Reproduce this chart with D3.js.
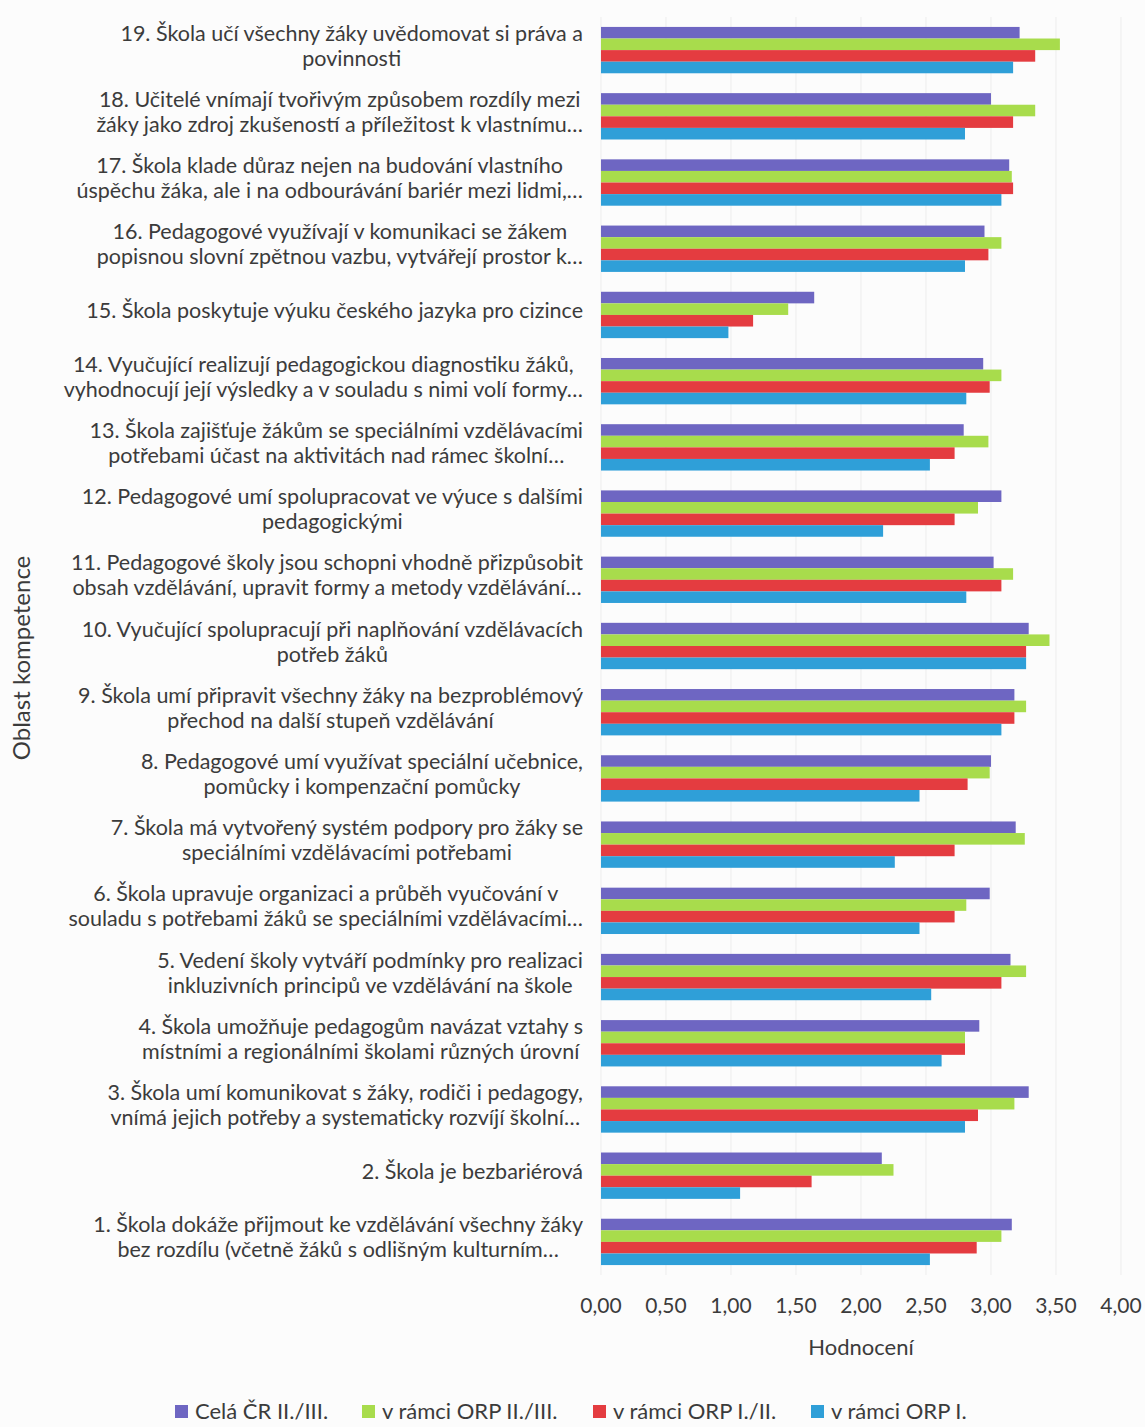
<!DOCTYPE html>
<html>
<head>
<meta charset="utf-8">
<script src="https://cdn.jsdelivr.net/npm/d3@7"></script>
<style>
  html, body { margin: 0; padding: 0; background: #fcfcfc; }
  svg { display: block; }
  text { font-family: Lato, "Open Sans", sans-serif; fill: #3b3b3b; }
</style>
</head>
<body>
<svg id="chart" width="1145" height="1427"></svg>
<script>
// Categories (number 1..19), each as label lines
const categories = [
  ["1. Škola dokáže přijmout ke vzdělávání všechny žáky", "bez rozdílu (včetně žáků s odlišným kulturním…"],
  ["2. Škola je bezbariérová"],
  ["3. Škola umí komunikovat s žáky, rodiči i pedagogy,", "vnímá jejich potřeby a systematicky rozvíjí školní…"],
  ["4. Škola umožňuje pedagogům navázat vztahy s", "místními a regionálními školami různých úrovní"],
  ["5. Vedení školy vytváří podmínky pro realizaci", "inkluzivních principů ve vzdělávání na škole"],
  ["6. Škola upravuje organizaci a průběh vyučování v", "souladu s potřebami žáků se speciálními vzdělávacími…"],
  ["7. Škola má vytvořený systém podpory pro žáky se", "speciálními vzdělávacími potřebami"],
  ["8. Pedagogové umí využívat speciální učebnice,", "pomůcky i kompenzační pomůcky"],
  ["9. Škola umí připravit všechny žáky na bezproblémový", "přechod na další stupeň vzdělávání"],
  ["10. Vyučující spolupracují při naplňování vzdělávacích", "potřeb žáků"],
  ["11. Pedagogové školy jsou schopni vhodně přizpůsobit", "obsah vzdělávání, upravit formy a metody vzdělávání…"],
  ["12. Pedagogové umí spolupracovat ve výuce s dalšími", "pedagogickými"],
  ["13. Škola zajišťuje žákům se speciálními vzdělávacími", "potřebami účast na aktivitách nad rámec školní…"],
  ["14. Vyučující realizují pedagogickou diagnostiku žáků,", "vyhodnocují její výsledky a v souladu s nimi volí formy…"],
  ["15. Škola poskytuje výuku českého jazyka pro cizince"],
  ["16. Pedagogové využívají v komunikaci se žákem", "popisnou slovní zpětnou vazbu, vytvářejí prostor k…"],
  ["17. Škola klade důraz nejen na budování vlastního", "úspěchu žáka, ale i na odbourávání bariér mezi lidmi,…"],
  ["18. Učitelé vnímají tvořivým způsobem rozdíly mezi", "žáky jako zdroj zkušeností a příležitost k vlastnímu…"],
  ["19. Škola učí všechny žáky uvědomovat si práva a", "povinnosti"]
];

const seriesNames = ["Celá ČR II./III.", "v rámci ORP II./III.", "v rámci ORP I./II.", "v rámci ORP I."];
const seriesColors = ["#6e66c2", "#a8dc4c", "#e43c40", "#2f9fd8"];

// values for categories 1..19
const celaCR = [3.16, 2.16, 3.29, 2.91, 3.15, 2.99, 3.19, 3.00, 3.18, 3.29, 3.02, 3.08, 2.79, 2.94, 1.64, 2.95, 3.14, 3.00, 3.22];
const orpIIIII = [3.08, 2.25, 3.18, 2.80, 3.27, 2.81, 3.26, 2.99, 3.27, 3.45, 3.17, 2.90, 2.98, 3.08, 1.44, 3.08, 3.16, 3.34, 3.53];
const orpIII = [2.89, 1.62, 2.90, 2.80, 3.08, 2.72, 2.72, 2.82, 3.18, 3.27, 3.08, 2.72, 2.72, 2.99, 1.17, 2.98, 3.17, 3.17, 3.34];
const orpI = [2.53, 1.07, 2.80, 2.62, 2.54, 2.45, 2.26, 2.45, 3.08, 3.27, 2.81, 2.17, 2.53, 2.81, 0.98, 2.80, 3.08, 2.80, 3.17];
const seriesValues = [celaCR, orpIIIII, orpIII, orpI];

const xTicks = [0, 0.5, 1, 1.5, 2, 2.5, 3, 3.5, 4];
const xTitle = "Hodnocení";
const yTitle = "Oblast kompetence";

const svg = d3.select("#chart");
const margin = { left: 601, right: 24, top: 17, bottom: 152 };
const W = 1145, H = 1427;

const idx = d3.range(categories.length);
const y = d3.scaleBand()
  .domain(idx.slice().reverse())
  .range([margin.top, H - margin.bottom])
  .paddingInner(0.3).paddingOuter(0.15);

const x = d3.scaleLinear().domain([0, 4]).range([margin.left, W - margin.right]);

const ySub = d3.scaleBand().domain(d3.range(seriesNames.length)).range([0, y.bandwidth()]);

// gridlines
svg.append("g")
  .selectAll("line").data(xTicks).join("line")
  .attr("x1", d => x(d)).attr("x2", d => x(d))
  .attr("y1", margin.top).attr("y2", H - margin.bottom)
  .attr("stroke", "#ededed").attr("stroke-width", 1);

// bars
const groups = svg.append("g").selectAll("g").data(idx).join("g")
  .attr("transform", i => `translate(0,${y(i)})`);

groups.selectAll("rect")
  .data(i => seriesValues.map((vals, s) => ({ s, v: vals[i] })))
  .join("rect")
  .attr("x", x(0))
  .attr("y", d => ySub(d.s))
  .attr("height", ySub.bandwidth())
  .attr("width", d => x(d.v) - x(0))
  .attr("fill", d => seriesColors[d.s]);

// category labels
const labelRight = margin.left - 18;
const lineH = 25;
const labels = svg.append("g").selectAll("g").data(idx).join("g");
labels.each(function(i) {
  const g = d3.select(this);
  const lines = categories[i];
  const cy = y(i) + y.bandwidth() / 2 - 5;
  const texts = g.selectAll("text").data(lines).join("text")
    .attr("font-size", 21.5)
    .attr("text-anchor", "middle")
    .attr("dominant-baseline", "central")
    .text(d => d);
  let maxW = 0;
  texts.each(function() { maxW = Math.max(maxW, this.getComputedTextLength()); });
  const n = lines.length;
  texts.attr("x", labelRight - maxW / 2)
    .attr("y", (d, k) => cy + (k - (n - 1) / 2) * lineH);
});

// x-axis tick labels
const fmt = v => d3.format(".2f")(v).replace(".", ",");
svg.append("g").selectAll("text").data(xTicks).join("text")
  .attr("x", d => x(d))
  .attr("y", H - margin.bottom + 38)
  .attr("text-anchor", "middle")
  .attr("font-size", 21)
  .text(fmt);

// x title
svg.append("text")
  .attr("x", (x(0) + x(4)) / 2)
  .attr("y", H - margin.bottom + 80)
  .attr("text-anchor", "middle")
  .attr("font-size", 22)
  .text(xTitle);

// y title
svg.append("text")
  .attr("transform", `translate(30,${(margin.top + H - margin.bottom) / 2 + 12}) rotate(-90)`)
  .attr("text-anchor", "middle")
  .attr("font-size", 24)
  .text(yTitle);

// legend
const legendX = [175, 362, 593, 811];
const legend = svg.append("g").selectAll("g").data(seriesNames).join("g")
  .attr("transform", (d, i) => `translate(${legendX[i]},${H - 6})`);
legend.append("rect")
  .attr("x", 0).attr("y", -16).attr("width", 13).attr("height", 13)
  .attr("fill", (d, i) => seriesColors[i]);
legend.append("text")
  .attr("x", 20).attr("y", -2)
  .attr("font-size", 22)
  .text(d => d);
</script>
</body>
</html>
